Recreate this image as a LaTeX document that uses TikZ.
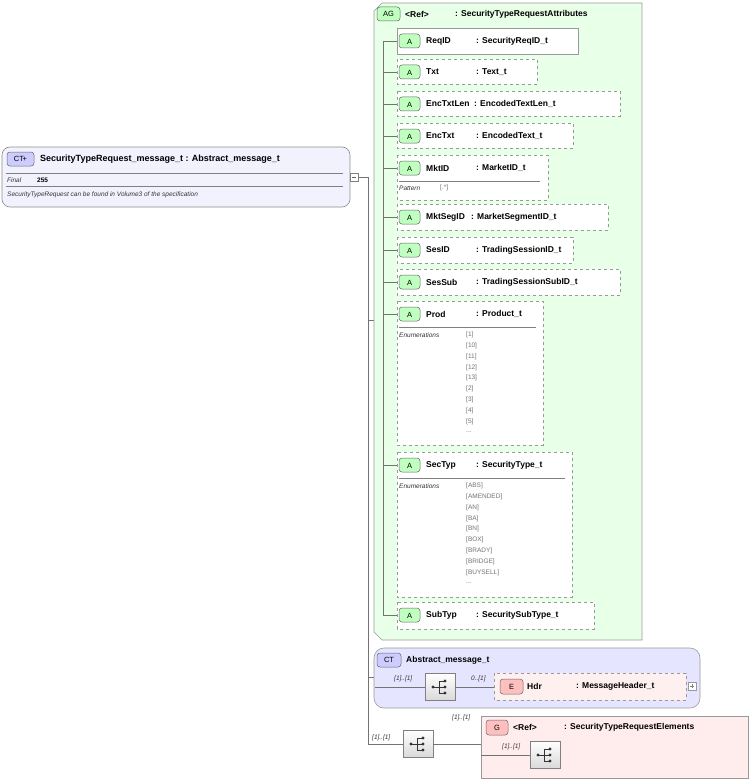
\documentclass[tikz,border=0pt]{standalone}
\usepackage{fontspec}
\setmainfont{Liberation Sans}
\begin{document}
\begin{tikzpicture}[x=1pt,y=-1pt,
 lbl/.style={font=\fontsize{8.5}{9}\selectfont\bfseries,anchor=west,inner sep=0},
 sm/.style={font=\fontsize{6.5}{7}\selectfont\itshape,anchor=west,inner sep=0,text=black!80},
 en/.style={font=\fontsize{6.5}{7}\selectfont,anchor=west,inner sep=0,text=black!55},
 ln/.style={draw=black!55,line width=0.5pt},
 attrbox/.style={draw=black!40,fill=white,line width=0.6pt},
 badge/.style={draw=black!60,rounded corners=3pt,line width=0.5pt},
 seqbox/.style={draw=black!50,top color=white,bottom color=black!15,line width=0.5pt}]
\useasboundingbox (0,0) rectangle (750,781);
\newcommand\attrbx[7]{%
 \draw[ln] (383,#2+13) -- (397,#2+13);
 \draw[attrbox,#7] (397,#2) rectangle (#4,#3);
 \draw[badge,fill=green!25] (399,#2+6) rectangle (420,#2+20);
 \node[font=\fontsize{7.5}{8}\selectfont,inner sep=0] at (409.5,#2+14) {A};
 \node[lbl] (#1) at (426,#2+13) {#5};
 \node[lbl] at (#6,#2+13) {: \csname tt#1\endcsname};}
% main CT
\draw[ln] (358,177) -- (368,177) -- (368,744);
\draw[draw=black!45,fill=blue!5,rounded corners=8pt,line width=0.6pt] (2,147) rectangle (350,207);
\draw[badge,fill=blue!20] (7,152) rectangle (34,166);
\node[font=\fontsize{7.5}{8}\selectfont,inner sep=0] at (20.5,159) {CT$\!$+};
\node[lbl,font=\fontsize{9}{10}\selectfont\bfseries] (main) at (40,159) {SecurityTypeRequest\_message\_t : Abstract\_message\_t};
\draw[black!50] (6,173) -- (343,173) (6,186) -- (343,186);
\node[sm] at (7,180) {Final};
\node[lbl,font=\fontsize{6.5}{7}\selectfont\bfseries] at (37,180) {255};
\node[sm] at (7,195) {SecurityTypeRequest can be found in Volume3 of the specification};
\draw[draw=black!50,fill=white,line width=0.4pt] (350,173) rectangle (358,181);
\draw[black!60] (352,177) -- (356,177);
% AG
\draw[ln] (368,320) -- (375,320);
\draw[draw=black!40,fill=green!9,line width=0.6pt] (382,3) -- (642,3) -- (642,640) -- (382,640) -- (374,632) -- (374,11) -- cycle;
\draw[badge,fill=green!25] (377,7) rectangle (400,21);
\node[font=\fontsize{7.5}{8}\selectfont,inner sep=0] at (388.5,14) {AG};
\node[lbl] (ag) at (405,14) {<Ref>};
\node[lbl] at (455,14) {: SecurityTypeRequestAttributes};
\draw[ln] (383,41) -- (383,615);
\def\ttReqID{SecurityReqID\_t}\def\ttTxt{Text\_t}\def\ttEncTxtLen{EncodedTextLen\_t}
\def\ttEncTxt{EncodedText\_t}\def\ttMktID{MarketID\_t}\def\ttMktSegID{MarketSegmentID\_t}
\def\ttSesID{TradingSessionID\_t}\def\ttSesSub{TradingSessionSubID\_t}\def\ttProd{Product\_t}
\def\ttSecTyp{SecurityType\_t}\def\ttSubTyp{SecuritySubType\_t}
\attrbx{ReqID}{28}{54}{578}{ReqID}{476}{}
\attrbx{Txt}{59}{84}{537}{Txt}{476}{dashed}
\attrbx{EncTxtLen}{91}{116}{620}{EncTxtLen}{474}{dashed}
\attrbx{EncTxt}{123}{148}{573}{EncTxt}{476}{dashed}
\attrbx{MktID}{155}{200}{548}{MktID}{476}{dashed}
\draw[black!50] (399,181) -- (540,181);
\node[sm] at (399,188) {Pattern}; \node[en] at (440,188) {[.*]};
\attrbx{MktSegID}{204}{230}{608}{MktSegID}{471}{dashed}
\attrbx{SesID}{237}{263}{573}{SesID}{476}{dashed}
\attrbx{SesSub}{269}{295}{620}{SesSub}{476}{dashed}
\attrbx{Prod}{301}{445}{543}{Prod}{476}{dashed}
\draw[black!50] (399,327) -- (536,327);
\node[sm] at (399,335) {Enumerations};
\foreach \t [count=\i from 0] in {[1],[10],[11],[12],[13],[2],[3],[4],[5]}
  \node[en] at (466,335+10.8*\i) {\t};
\node[en] at (466,432) {...};
\attrbx{SecTyp}{452}{597}{572}{SecTyp}{476}{dashed}
\draw[black!50] (399,478) -- (565,478);
\node[sm] at (399,486) {Enumerations};
\foreach \t [count=\i from 0] in {[ABS],[AMENDED],[AN],[BA],[BN],[BOX],[BRADY],[BRIDGE],[BUYSELL]}
  \node[en] at (466,486+10.8*\i) {\t};
\node[en] at (466,583) {...};
\attrbx{SubTyp}{602}{629}{594}{SubTyp}{476}{dashed}
% Abstract CT
\draw[ln] (368,677) -- (375,677);
\draw[draw=black!40,fill=blue!10,rounded corners=10pt,line width=0.6pt] (374,648) rectangle (700,708);
\draw[badge,fill=blue!20] (377,653) rectangle (401,667);
\node[font=\fontsize{7.5}{8}\selectfont,inner sep=0] at (389,660) {CT};
\node[lbl] (abs) at (406,660) {Abstract\_message\_t};
\node[seqbox,minimum width=30pt,minimum height=27pt,inner sep=0] (s1) at (440,687) {};
\draw[ln] (375,687) -- (s1.west) (s1.east) -- (494,687);
\node[sm] at (394,679) {[1]..[1]};
\node[sm] at (471,679) {0..[1]};
\draw[attrbox,dashed,fill=red!6] (494,673) rectangle (686,700);
\draw[badge,fill=red!25] (500,679) rectangle (523,694);
\node[font=\fontsize{7.5}{8}\selectfont,inner sep=0] at (511.5,686.5) {E};
\node[lbl] (hdr) at (527,686) {Hdr};
\node[lbl] at (576,686) {: MessageHeader\_t};
\draw[black!40,fill=white] (688,682) rectangle (696,690);
\draw[black!50] (690,686) -- (694,686) (692,684) -- (692,688);
% seq + G
\node[seqbox,minimum width=30pt,minimum height=27pt,inner sep=0] (s2) at (418,744) {};
\draw[ln] (368,744) -- (s2.west) (s2.east) -- (481,744);
\node[sm] at (372,738) {[1]..[1]};
\node[sm] at (452,718) {[1]..[1]};
\draw[draw=black!40,fill=red!7,line width=0.6pt] (481,716) rectangle (748,778);
\draw[badge,fill=red!25] (486,720) rectangle (508,735);
\node[font=\fontsize{7.5}{8}\selectfont,inner sep=0] at (497,727.5) {G};
\node[lbl] (grp) at (513,727) {<Ref>};
\node[lbl] at (564,727) {: SecurityTypeRequestElements};
\node[seqbox,minimum width=30pt,minimum height=27pt,inner sep=0] (s3) at (545,755) {};
\draw[ln] (481,755) -- (s3.west);
\node[sm] at (502,747) {[1]..[1]};
% seq icons
\foreach \s in {s1,s2,s3}{
 \fill[black!80] ([xshift=-7pt]\s.center) circle (1.6pt);
 \draw[black!80,line width=0.6pt] ([xshift=-7pt]\s.center) -- ([xshift=-1pt]\s.center)
   ([xshift=-1pt,yshift=6pt]\s.center) -- ([xshift=-1pt,yshift=-6pt]\s.center);
 \foreach \dy in {-6,0,6}{
   \draw[black!80,line width=0.6pt] ([xshift=-1pt,yshift=\dy pt]\s.center) -- ([xshift=4pt,yshift=\dy pt]\s.center);
   \fill[black!80] ([xshift=5pt,yshift=\dy pt]\s.center) circle (1.6pt);}}
\end{tikzpicture}
\end{document}
